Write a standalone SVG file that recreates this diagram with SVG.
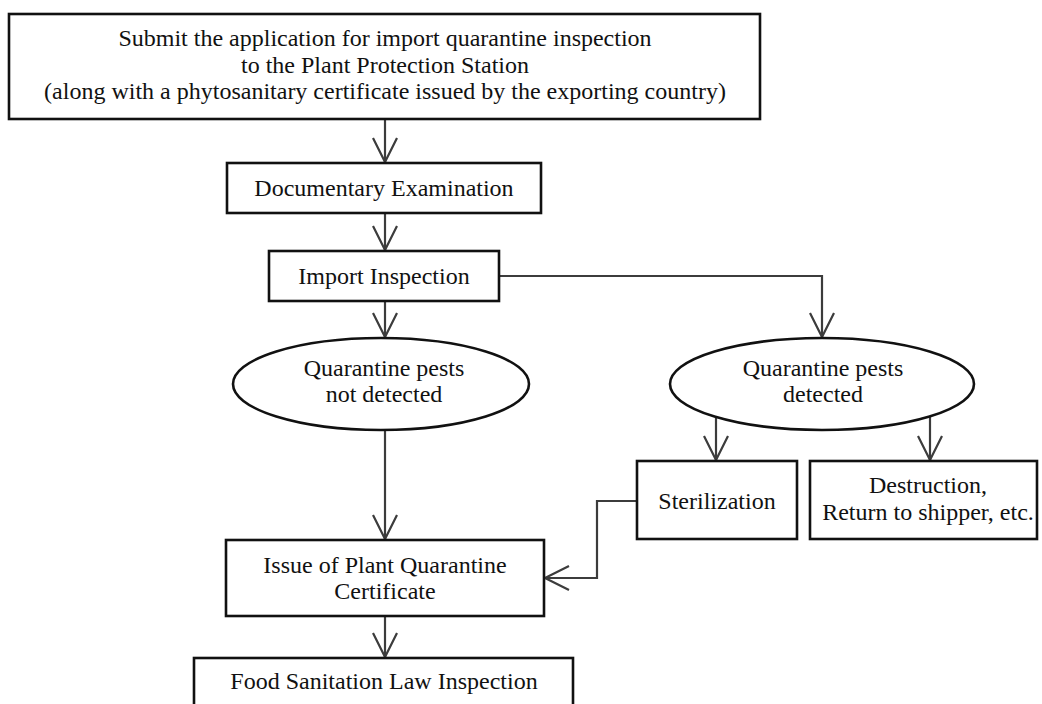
<svg xmlns="http://www.w3.org/2000/svg" width="1042" height="704" viewBox="0 0 1042 704">
<defs>
<style>
.box{fill:#fff;stroke:#111;stroke-width:2.6}
.t{font-family:"Liberation Serif","Times New Roman",serif;font-size:24px;fill:#111;text-anchor:middle}
.c{fill:none;stroke:#3c3c3c;stroke-width:2.2}
</style>
<marker id="arr" markerUnits="userSpaceOnUse" markerWidth="32" markerHeight="32" viewBox="-28 -16 32 32" refX="0" refY="0" orient="auto">
<path d="M-24,-12 L0,0 L-24,12" fill="none" stroke="#3c3c3c" stroke-width="2.2"/>
</marker>
</defs>
<rect width="1042" height="704" fill="#fff"/>
<g id="connectors">
<path class="c" d="M385,119 V162" marker-end="url(#arr)"/>
<path class="c" d="M385,213 V250" marker-end="url(#arr)"/>
<path class="c" d="M385,301 V337" marker-end="url(#arr)"/>
<path class="c" d="M499,276 H822 V337" marker-end="url(#arr)"/>
<path class="c" d="M385,430 V539" marker-end="url(#arr)"/>
<path class="c" d="M716,416 V460" marker-end="url(#arr)"/>
<path class="c" d="M930,416 V460" marker-end="url(#arr)"/>
<path class="c" d="M637,501 H597 V578 H545" marker-end="url(#arr)"/>
<path class="c" d="M385,616 V657" marker-end="url(#arr)"/>
</g>
<g id="n_submit">
<rect class="box" x="9" y="14" width="751" height="105"/>
<text class="t" x="385" y="46">Submit the application for import quarantine inspection</text>
<text class="t" x="385" y="73">to the Plant Protection Station</text>
<text class="t" x="385" y="99">(along with a phytosanitary certificate issued by the exporting country)</text>
</g>
<g id="n_doc">
<rect class="box" x="227" y="163" width="314" height="50"/>
<text class="t" x="384" y="196">Documentary Examination</text>
</g>
<g id="n_import">
<rect class="box" x="269" y="251" width="230" height="50"/>
<text class="t" x="384" y="284">Import Inspection</text>
</g>
<g id="n_notdetected">
<ellipse class="box" cx="381" cy="384" rx="148" ry="46"/>
<text class="t" x="384" y="376">Quarantine pests</text>
<text class="t" x="384" y="402">not detected</text>
</g>
<g id="n_detected">
<ellipse class="box" cx="822" cy="384" rx="152" ry="46"/>
<text class="t" x="823" y="376">Quarantine pests</text>
<text class="t" x="823" y="402">detected</text>
</g>
<g id="n_steril">
<rect class="box" x="637" y="461" width="160" height="78"/>
<text class="t" x="717" y="509">Sterilization</text>
</g>
<g id="n_destruct">
<rect class="box" x="810" y="461" width="227" height="78"/>
<text class="t" x="928" y="493">Destruction,</text>
<text class="t" x="928" y="520">Return to shipper, etc.</text>
</g>
<g id="n_cert">
<rect class="box" x="226" y="540" width="318" height="76"/>
<text class="t" x="385" y="573">Issue of Plant Quarantine</text>
<text class="t" x="385" y="599">Certificate</text>
</g>
<g id="n_food">
<rect class="box" x="194" y="658" width="379" height="60"/>
<text class="t" x="384" y="689">Food Sanitation Law Inspection</text>
</g>
</svg>
